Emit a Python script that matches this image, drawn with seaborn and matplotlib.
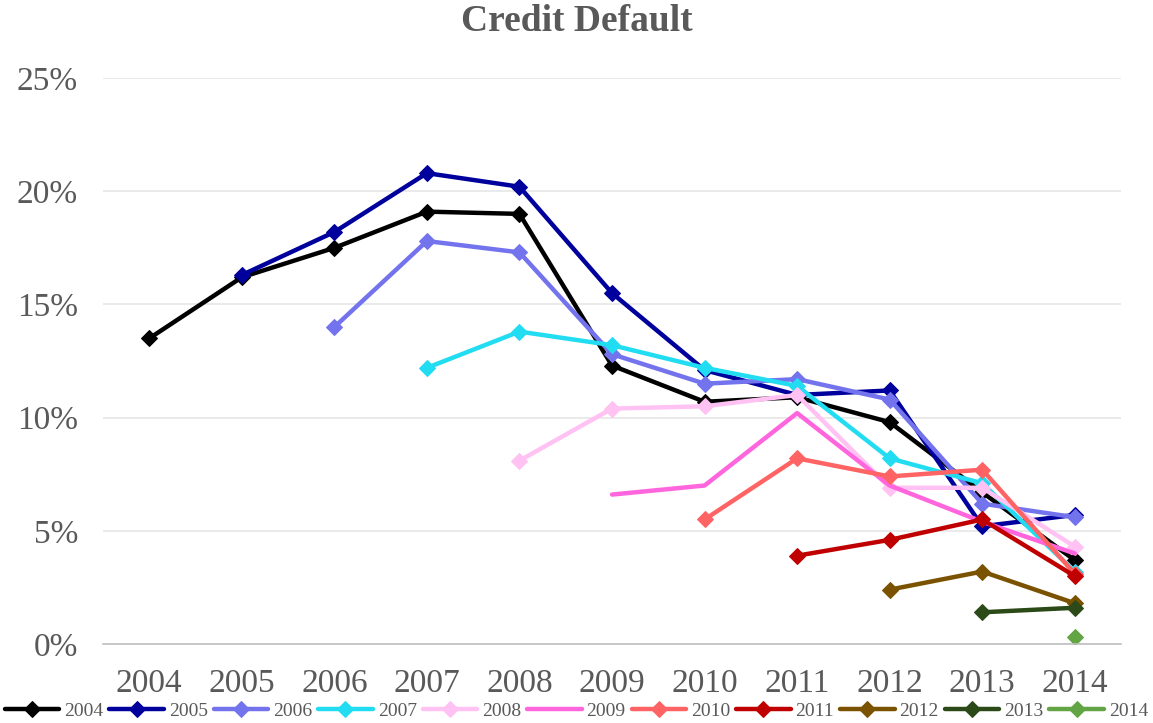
import numpy as np
import pandas as pd
import matplotlib
matplotlib.use('Agg')
import matplotlib.pyplot as plt
from matplotlib.ticker import FuncFormatter
import seaborn as sns

# --- data (default rate in %, by observation year, one series per cohort) ---
years = [2004, 2005, 2006, 2007, 2008, 2009, 2010, 2011, 2012, 2013, 2014]
cohorts = ['2004', '2005', '2006', '2007', '2008', '2009', '2010', '2011', '2012', '2013', '2014']

rates_2004 = [13.5, 16.2, 17.5, 19.1, 19.0, 12.3, 10.7, 10.9, 9.8, 6.7, 3.7]
rates_2005 = [16.3, 18.2, 20.8, 20.2, 15.5, 12.1, 11.0, 11.2, 5.2, 5.7]
rates_2006 = [14.0, 17.8, 17.3, 12.8, 11.5, 11.7, 10.8, 6.2, 5.6]
rates_2007 = [12.2, 13.8, 13.2, 12.2, 11.4, 8.2, 7.1, 3.2]
rates_2008 = [8.1, 10.4, 10.5, 11.0, 6.9, 6.9, 4.3]
rates_2009 = [6.6, 7.0, 10.2, 7.0, 5.4, 4.0]
rates_2010 = [5.5, 8.2, 7.4, 7.7, 3.1]
rates_2011 = [3.9, 4.6, 5.5, 3.0]
rates_2012 = [2.4, 3.2, 1.8]
rates_2013 = [1.4, 1.6]
rates_2014 = [0.3]

all_rates = [rates_2004, rates_2005, rates_2006, rates_2007, rates_2008, rates_2009,
             rates_2010, rates_2011, rates_2012, rates_2013, rates_2014]

colors = ['#000000', '#00009C', '#7373EE', '#22DDF2', '#FFC2F2', '#FF66DD',
          '#FF6363', '#C00000', '#7A5200', '#2B4A18', '#63A444']

rows = []
for cohort, rates in zip(cohorts, all_rates):
    start = years.index(int(cohort))
    for yr, r in zip(years[start:], rates):
        rows.append({'Year': yr, 'Cohort': cohort, 'Rate': r / 100})
df = pd.DataFrame(rows)

# --- plot ---
sns.set_style('white')
plt.rcParams['font.family'] = ['Liberation Serif', 'DejaVu Serif']

fig = plt.figure(figsize=(11.53, 7.23), dpi=100)
ax = fig.add_axes([0.0893, 0.1093, 0.8830, 0.7827])

for cohort, col in zip(cohorts, colors):
    sub = df[df['Cohort'] == cohort]
    mk = None if cohort == '2009' else 'D'
    sns.lineplot(data=sub, x='Year', y='Rate', color=col, linewidth=3.2,
                 marker=mk, markersize=8.5, markeredgecolor=col, label=cohort, ax=ax)

ax.set_xlim(2003.5, 2014.5)
ax.set_ylim(0, 0.25)
ax.set_xticks(years)
ax.set_xticklabels([str(y) for y in years])
ax.set_yticks([0, 0.05, 0.10, 0.15, 0.20, 0.25])
ax.yaxis.set_major_formatter(FuncFormatter(lambda v, p: f'{v * 100:.0f}%'))
ax.tick_params(axis='both', length=0, labelsize=24, labelcolor='#595959')
ax.tick_params(axis='y', pad=18)
ax.tick_params(axis='x', pad=18)
ax.set_xlabel('')
ax.set_ylabel('')
ax.grid(axis='y', color='#E6E6E6', linewidth=1.2)
ax.set_axisbelow(True)
for s in ['top', 'right', 'left']:
    ax.spines[s].set_visible(False)
ax.spines['bottom'].set_color('#BFBFBF')
ax.spines['bottom'].set_linewidth(1.2)

fig.suptitle('Credit Default', x=0.5, y=0.97, va='center', fontsize=27,
             fontweight='bold', color='#595959')

ax.legend(loc='center', bbox_to_anchor=(0.5, 0.0166), bbox_transform=fig.transFigure,
          ncol=11, frameon=False, fontsize=14, handlelength=2.8, handletextpad=0.26,
          columnspacing=0.3, labelcolor='#595959', borderpad=0, borderaxespad=0)

plt.savefig('out.png', dpi=100)
